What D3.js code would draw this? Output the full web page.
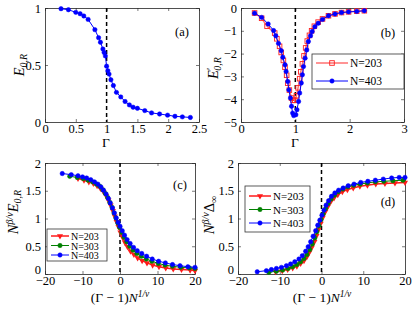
<!DOCTYPE html>
<html>
<head>
<meta charset="utf-8">
<script src="https://cdn.jsdelivr.net/npm/d3@7"></script>
<style>
  body { margin: 0; background: #fff; }
  text { font-family: "Liberation Serif", "DejaVu Serif", serif; }
</style>
</head>
<body>
<script>
// ---- data ----
// (a) E_{0,R} vs Gamma
var gammaA = [0.26,0.38,0.50,0.57,0.63,0.70,0.81,0.87,0.90,0.94,0.96,0.98,1.00,1.02,1.04,1.07,1.11,1.16,1.23,1.30,1.37,1.43,1.50,1.62,1.73,1.86,1.99,2.11,2.23,2.36];
var eA     = [0.994,0.985,0.962,0.95,0.93,0.90,0.81,0.74,0.70,0.64,0.61,0.58,0.49,0.45,0.42,0.37,0.32,0.26,0.22,0.18,0.15,0.13,0.12,0.10,0.08,0.07,0.06,0.05,0.045,0.04];

// (b) derivative, N=203 and N=403
var gammaB203 = [0.25,0.38,0.48,0.62,0.66,0.71,0.74,0.78,0.81,0.84,0.86,0.89,0.93,0.96,0.99,1.02,1.05,1.08,1.10,1.13,1.16,1.19,1.22,1.26,1.30,1.35,1.42,1.50,1.61,1.73,1.85,1.98,2.13,2.27];
var dB203     = [-0.22,-0.45,-0.80,-1.1,-1.35,-1.68,-1.95,-2.3,-2.6,-2.95,-3.3,-3.6,-3.95,-4.05,-4.05,-3.85,-3.5,-3.1,-2.8,-2.45,-2.1,-1.75,-1.45,-1.2,-1.0,-0.8,-0.62,-0.48,-0.34,-0.26,-0.2,-0.17,-0.14,-0.12];
var gammaB403 = [0.25,0.38,0.50,0.60,0.64,0.69,0.74,0.77,0.81,0.83,0.86,0.88,0.91,0.93,0.95,0.97,1.01,1.03,1.06,1.08,1.11,1.13,1.15,1.18,1.21,1.24,1.28,1.31,1.36,1.42,1.50,1.61,1.73,1.85,1.98,2.13,2.27];
var dB403     = [-0.23,-0.41,-0.70,-0.99,-1.22,-1.55,-1.87,-2.16,-2.49,-2.78,-3.22,-3.59,-3.95,-4.31,-4.61,-4.72,-4.68,-4.46,-4.10,-3.73,-3.29,-2.93,-2.57,-2.2,-1.84,-1.47,-1.22,-1.03,-0.82,-0.67,-0.50,-0.34,-0.26,-0.20,-0.17,-0.15,-0.12];

// (c) scaled E_{0,R}
var xC203 = [-11.2,-9.6,-8.3,-7.1,-6.1,-5.2,-4.4,-3.7,-3.1,-2.5,-1.9,-1.4,-0.9,-0.4,0.1,0.7,1.3,2.0,2.8,3.7,4.7,5.9,7.2,8.7,10.4,12.2,14.2,16.4,18.7,20.0];
var yC203 = [1.72,1.69,1.66,1.63,1.59,1.54,1.48,1.41,1.33,1.24,1.14,1.04,0.94,0.85,0.75,0.66,0.57,0.49,0.41,0.35,0.29,0.24,0.20,0.16,0.13,0.11,0.09,0.08,0.07,0.06];
var xC303 = [-13.4,-11.4,-9.8,-8.5,-7.3,-6.3,-5.4,-4.6,-3.9,-3.3,-2.7,-2.1,-1.6,-1.1,-0.6,-0.1,0.5,1.1,1.8,2.6,3.5,4.5,5.7,7.0,8.5,10.2,12.0,14.0,16.2,18.5,20.0];
var yC303 = [1.76,1.74,1.72,1.69,1.66,1.62,1.58,1.52,1.45,1.38,1.29,1.20,1.10,1.01,0.92,0.84,0.75,0.66,0.58,0.50,0.43,0.37,0.32,0.27,0.23,0.19,0.16,0.14,0.12,0.11,0.10];
var xC403 = [-15.4,-13.0,-11.2,-10.0,-8.9,-7.8,-6.8,-5.9,-5.1,-4.4,-3.7,-3.1,-2.6,-2.0,-1.5,-1.0,-0.5,0.0,0.6,1.2,1.9,2.7,3.6,4.6,5.8,7.1,8.6,10.3,12.1,14.0,16.0,18.1,20.0];
var yC403 = [1.81,1.79,1.77,1.75,1.73,1.70,1.66,1.62,1.57,1.51,1.44,1.36,1.28,1.19,1.10,1.01,0.93,0.86,0.78,0.70,0.62,0.55,0.48,0.42,0.37,0.32,0.27,0.23,0.20,0.17,0.15,0.13,0.12];

// (d) scaled Delta
var xD203 = [-11.0,-9.4,-8.1,-6.9,-5.9,-5.0,-4.2,-3.5,-2.9,-2.3,-1.7,-1.2,-0.7,-0.2,0.3,0.9,1.5,2.2,3.0,3.9,5.0,6.2,7.6,9.2,11.0,13.0,15.2,17.6,20.0];
var yD203 = [0.04,0.06,0.08,0.11,0.14,0.19,0.24,0.31,0.39,0.48,0.58,0.69,0.80,0.91,1.02,1.12,1.21,1.30,1.37,1.43,1.48,1.52,1.55,1.58,1.60,1.62,1.63,1.64,1.65];
var xD303 = [-12.6,-10.8,-9.3,-8.0,-6.9,-5.9,-5.0,-4.2,-3.5,-2.8,-2.2,-1.6,-1.1,-0.6,-0.1,0.4,1.0,1.6,2.3,3.1,4.0,5.1,6.3,7.7,9.3,11.0,12.9,14.9,17.1,19.5];
var yD303 = [0.03,0.05,0.07,0.10,0.13,0.17,0.22,0.28,0.35,0.44,0.54,0.65,0.76,0.87,0.98,1.08,1.18,1.27,1.35,1.42,1.48,1.53,1.57,1.60,1.62,1.64,1.66,1.67,1.68,1.69];
var xD403 = [-15.4,-13.2,-12.0,-10.8,-9.6,-8.4,-7.4,-6.4,-5.4,-4.6,-3.8,-3.2,-2.6,-2.0,-1.4,-0.9,-0.4,0.1,0.6,1.1,1.7,2.4,3.2,4.1,5.2,6.4,7.8,9.4,11.1,12.9,14.8,16.8,18.6,20.0];
var yD403 = [0.04,0.06,0.08,0.10,0.12,0.15,0.18,0.22,0.27,0.33,0.41,0.49,0.58,0.68,0.78,0.88,0.97,1.06,1.15,1.24,1.32,1.40,1.46,1.51,1.55,1.59,1.62,1.65,1.67,1.69,1.71,1.73,1.74,1.74];

var labels3 = ["N=203", "N=303", "N=403"];

// ---- drawing ----
var svg = d3.select("body").append("svg").attr("width", 415).attr("height", 309);
var fmt = d3.format("~g");
var red = "#ff1a1a", green = "#008000", blue = "#0000ff";

function zip(xs, ys) { return xs.map(function(v, i) { return [v, ys[i]]; }); }

function panel(o) {
  var x = d3.scaleLinear().domain(o.xd).range([o.l, o.r]);
  var y = d3.scaleLinear().domain(o.yd).range([o.b, o.t]);
  var g = svg.append("g");

  // box + inward ticks (matlab style)
  g.append("g").attr("transform", "translate(0," + o.b + ")")
    .call(d3.axisBottom(x).tickValues(o.xt).tickFormat(fmt).tickSizeInner(-3).tickSizeOuter(0).tickPadding(2));
  g.append("g").attr("transform", "translate(0," + o.t + ")")
    .call(d3.axisTop(x).tickValues(o.xt).tickFormat("").tickSizeInner(-3).tickSizeOuter(0));
  var ya = g.append("g").attr("transform", "translate(" + o.l + ",0)")
    .call(d3.axisLeft(y).tickValues(o.yt).tickFormat(fmt).tickSizeInner(-3).tickSizeOuter(0).tickPadding(4));
  g.append("g").attr("transform", "translate(" + o.r + ",0)")
    .call(d3.axisRight(y).tickValues(o.yt).tickFormat("").tickSizeInner(-3).tickSizeOuter(0));
  g.selectAll(".domain").attr("stroke", "#222").attr("stroke-width", 0.8);
  g.selectAll(".tick line").attr("stroke", "#222").attr("stroke-width", 0.6);
  g.selectAll(".tick text").attr("font-size", 12.5).attr("font-family", "Liberation Serif").attr("fill", "#000");
  // keep the lowest y label clear of the first x label
  if (o.lift) ya.selectAll(".tick text").filter(function(d) { return d === o.yd[0]; }).attr("dy", "-0.08em");

  // dashed critical line
  g.append("line")
    .attr("x1", x(o.xc)).attr("x2", x(o.xc))
    .attr("y1", o.t).attr("y2", o.b)
    .attr("stroke", "#000").attr("stroke-width", 1.5).attr("stroke-dasharray", "4,3");

  return { g: g, x: x, y: y };
}

function marker(sel, kind, col) {
  if (kind === "circle") {
    sel.append("circle").attr("r", 2.2).attr("fill", col).attr("stroke", col).attr("stroke-width", 0.5);
  } else if (kind === "square") {
    sel.append("rect").attr("x", -2.3).attr("y", -2.3).attr("width", 4.6).attr("height", 4.6)
      .attr("fill", "none").attr("stroke", col).attr("stroke-width", 0.9);
  } else {
    sel.append("path").attr("d", d3.symbol(d3.symbolTriangle, 16)()).attr("transform", "rotate(180)")
      .attr("fill", col);
  }
}

function series(p, pts, col, kind, lineCol, lw) {
  var line = d3.line().x(function(d) { return p.x(d[0]); }).y(function(d) { return p.y(d[1]); });
  p.g.append("path").datum(pts).attr("d", line)
    .attr("fill", "none").attr("stroke", lineCol || col).attr("stroke-width", lw || 1);
  p.g.selectAll(null).data(pts).enter().append("g")
    .attr("transform", function(d) { return "translate(" + p.x(d[0]) + "," + p.y(d[1]) + ")"; })
    .each(function() { marker(d3.select(this), kind, col); });
}

function legend(box, items) {
  var g = svg.append("g");
  g.append("rect").attr("x", box.x).attr("y", box.y).attr("width", box.w).attr("height", box.h)
    .attr("fill", "#fff").attr("stroke", "#333").attr("stroke-width", 0.8);
  items.forEach(function(it, i) {
    var yy = box.y + box.y0 + i * box.dy;
    g.append("line").attr("x1", box.x + 4).attr("x2", box.x + box.ll).attr("y1", yy).attr("y2", yy)
      .attr("stroke", it.lineCol || it.col).attr("stroke-width", it.lw || 1);
    var mx = box.x + (4 + box.ll) / 2;
    var m = g.append("g").attr("transform", "translate(" + mx + "," + yy + ")");
    marker(m, it.kind, it.col);
    g.append("text").attr("x", box.x + box.ll + 2).attr("y", yy + 4)
      .attr("font-size", box.fs || 11).text(it.label);
  });
}

function addParts(t, parts) {
  parts.forEach(function(p) {
    var s = t.append("tspan").text(p.t);
    if (p.i) s.attr("font-style", "italic");
    if (p.dy) s.attr("dy", p.dy);
    if (p.dx) s.attr("dx", p.dx);
    if (p.fs) s.attr("font-size", p.fs);
  });
}

function ylabel(x, y, parts) {
  var t = svg.append("text").attr("transform", "translate(" + x + "," + y + ") rotate(-90)")
    .attr("text-anchor", "middle").attr("font-size", 14.5);
  addParts(t, parts);
}

function xlabel(x, y, parts) {
  var t = svg.append("text").attr("x", x).attr("y", y).attr("text-anchor", "middle").attr("font-size", 13.5);
  addParts(t, parts);
}

// (a)
var pa = panel({ l: 45, r: 199, t: 8, b: 122, xd: [0, 2.5], yd: [0, 1],
  xt: [0, 0.5, 1, 1.5, 2, 2.5], yt: [0, 0.5, 1], xc: 1 });
series(pa, zip(gammaA, eA), blue, "circle");
svg.append("text").attr("x", 182).attr("y", 36).attr("text-anchor", "middle").attr("font-size", 12.5).text("(a)");
ylabel(24, 65, [{ t: "E", i: true }, { t: "0,R", i: true, fs: 10, dy: 3 }]);
xlabel(106, 147, [{ t: "Γ" }]);

// (b)
var pb = panel({ l: 241, r: 404, t: 8, b: 122, xd: [0, 3], yd: [-5, 0],
  xt: [0, 1, 2, 3], yt: [-5, -4, -3, -2, -1, 0], xc: 1 });
series(pb, zip(gammaB203, dB203), "#ff2020", "square", "#ff7070", 1.5);
series(pb, zip(gammaB403, dB403), blue, "circle");
svg.append("text").attr("x", 388).attr("y", 37).attr("text-anchor", "middle").attr("font-size", 12.5).text("(b)");
legend({ x: 312, y: 54, w: 92, h: 35, y0: 9, dy: 18, ll: 36, fs: 11.5 }, [
  { label: labels3[0], col: "#ff2020", kind: "square", lineCol: "#ff7070", lw: 1.5 },
  { label: labels3[2], col: blue, kind: "circle" }
]);
ylabel(218, 68, [{ t: "E", i: true }, { t: "′", dy: -4, fs: 11 }, { t: "0,R", i: true, fs: 10, dy: 7, dx: -3 }]);
xlabel(295, 147, [{ t: "Γ" }]);

// (c)
var pc = panel({ l: 45, r: 195, t: 163, b: 274, xd: [-20, 20], yd: [0, 2],
  xt: [-20, -10, 0, 10, 20], yt: [0, 0.5, 1, 1.5, 2], xc: 0, lift: true });
series(pc, zip(xC203, yC203), red, "tri", red, 1.5);
series(pc, zip(xC303, yC303), green, "circle");
series(pc, zip(xC403, yC403), blue, "circle");
svg.append("text").attr("x", 180).attr("y", 189).attr("text-anchor", "middle").attr("font-size", 12.5).text("(c)");
legend({ x: 47, y: 229, w: 60, h: 32, y0: 7, dy: 9.5, ll: 22, fs: 10 }, [
  { label: labels3[0], col: red, kind: "tri", lw: 1.5 },
  { label: labels3[1], col: green, kind: "circle" },
  { label: labels3[2], col: blue, kind: "circle" }
]);
ylabel(18, 212, [{ t: "N", i: true }, { t: "β/ν", i: true, fs: 10, dy: -5 }, { t: "E", i: true, dy: 5 }, { t: "0,R", i: true, fs: 10, dy: 3 }]);
xlabel(120, 302, [{ t: "(Γ − 1)" }, { t: "N", i: true }, { t: "1/ν", i: true, fs: 9.5, dy: -5 }]);

// (d)
var pd = panel({ l: 238, r: 405, t: 163, b: 274, xd: [-20, 20], yd: [0, 2],
  xt: [-20, -10, 0, 10, 20], yt: [0, 0.5, 1, 1.5, 2], xc: 0, lift: true });
series(pd, zip(xD203, yD203), red, "tri", red, 1.5);
series(pd, zip(xD303, yD303), green, "circle");
series(pd, zip(xD403, yD403), blue, "circle");
svg.append("text").attr("x", 388).attr("y", 206).attr("text-anchor", "middle").attr("font-size", 12.5).text("(d)");
legend({ x: 245, y: 186, w: 65, h: 46, y0: 10, dy: 13.5, ll: 26, fs: 11 }, [
  { label: labels3[0], col: red, kind: "tri", lw: 1.5 },
  { label: labels3[1], col: green, kind: "circle" },
  { label: labels3[2], col: blue, kind: "circle" }
]);
ylabel(214, 215, [{ t: "N", i: true }, { t: "β/ν", i: true, fs: 10, dy: -5 }, { t: "Δ", dy: 5 }, { t: "∞", fs: 10, dy: 3 }]);
xlabel(322, 302, [{ t: "(Γ − 1)" }, { t: "N", i: true }, { t: "1/ν", i: true, fs: 9.5, dy: -5 }]);
</script>
</body>
</html>
